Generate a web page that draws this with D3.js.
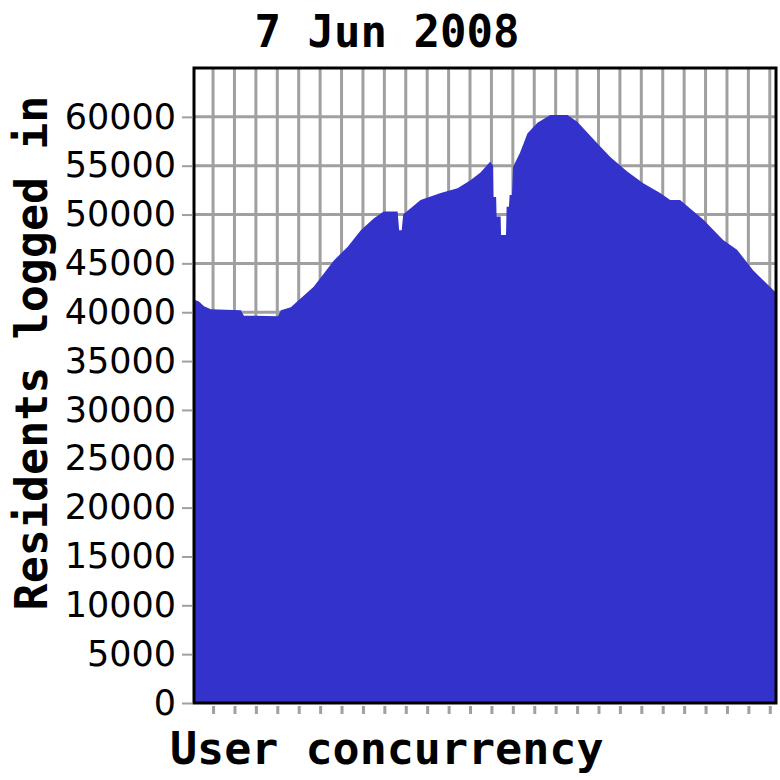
<!DOCTYPE html>
<html>
<head>
<meta charset="utf-8">
<script src="https://cdn.jsdelivr.net/npm/d3@7"></script>
<style>
  html, body { margin: 0; padding: 0; background: #fff; }
  svg { display: block; }
</style>
</head>
<body>
<svg id="chart" width="780" height="780"></svg>
<script>
// ---- data (x in grid-interval units, y = residents logged in) ----
const xValues = [0, 0.23, 0.47, 0.79, 2.19, 2.33, 3.92, 4.06, 4.52, 5.59, 6.53, 7.18, 7.79, 8.39, 8.86,
  9.51, 9.58, 9.70, 9.77, 10.58, 11.52, 12.31, 12.91, 13.38, 13.83, 13.97, 13.99, 14.11, 14.13, 14.32,
  14.34, 14.57, 14.60, 14.71, 14.74, 14.85, 14.90, 15.22, 15.46, 15.57, 16.04, 16.64, 17.44, 17.90,
  18.83, 19.44, 20.23, 20.98, 21.77, 22.24, 22.70, 23.78, 24.71, 25.36, 26.11, 27.04, 27.18];
const residents = [41300, 41100, 40600, 40300, 40200, 39650, 39600, 40200, 40500, 42600, 45300, 46700, 48400, 49600, 50300,
  50300, 48400, 48400, 50000, 51500, 52200, 52700, 53500, 54300, 55400, 55000, 51800, 51800, 49800, 49800,
  47900, 47900, 50800, 50800, 52000, 52000, 54900, 56300, 57650, 58300, 59400, 60200, 60200, 59500,
  57300, 55900, 54400, 53200, 52200, 51500, 51500, 49500, 47400, 46400, 44300, 42300, 42000];
const xTicks = [0.89, 1.89, 2.89, 3.89, 4.89, 5.89, 6.89, 7.89, 8.89, 9.89, 10.89, 11.89, 12.89, 13.89,
  14.89, 15.89, 16.89, 17.89, 18.89, 19.89, 20.89, 21.89, 22.89, 23.89, 24.89, 25.89, 26.89];
const yTicks = [0, 5000, 10000, 15000, 20000, 25000, 30000, 35000, 40000, 45000, 50000, 55000, 60000];
const xDomain = [0, 27.18];
const yDomain = [0, 65000];
const titleText = "7 Jun 2008";
const xLabel = "User concurrency";
const yLabel = "Residents logged in";

const data = xValues.map((x, i) => ({ x, y: residents[i] }));

const plotLeft = 194, plotRight = 776, plotTop = 68, plotBottom = 703;
const svg = d3.select("#chart");

const x = d3.scaleLinear().domain(xDomain).range([plotLeft, plotRight]);
const y = d3.scaleLinear().domain(yDomain).range([plotBottom, plotTop]);

const grid = "#a0a0a0";

// grid lines
svg.append("g").selectAll("line").data(yTicks.filter(d => d > 0)).join("line")
  .attr("x1", plotLeft).attr("x2", plotRight)
  .attr("y1", d => y(d)).attr("y2", d => y(d))
  .attr("stroke", grid).attr("stroke-width", 3);
svg.append("g").selectAll("line").data(xTicks).join("line")
  .attr("x1", d => x(d)).attr("x2", d => x(d))
  .attr("y1", plotTop).attr("y2", plotBottom)
  .attr("stroke", grid).attr("stroke-width", 3);

// area
const area = d3.area().x(d => x(d.x)).y0(y(0)).y1(d => y(d.y)).curve(d3.curveLinear);
svg.append("path").datum(data).attr("d", area).attr("fill", "#3333cc");

// frame
svg.append("rect").attr("x", plotLeft).attr("y", plotTop)
  .attr("width", plotRight - plotLeft).attr("height", plotBottom - plotTop)
  .attr("fill", "none").attr("stroke", "#000").attr("stroke-width", 3);

// y axis
const yAxis = d3.axisLeft(y).tickValues(yTicks).tickSize(10).tickPadding(6).tickFormat(d3.format("d"));
const gy = svg.append("g").attr("transform", `translate(${plotLeft - 2},0)`).call(yAxis);
gy.select(".domain").remove();
gy.selectAll(".tick line").attr("stroke", grid).attr("stroke-width", 2);
gy.selectAll(".tick text").attr("font-family", "DejaVu Sans").attr("font-size", 35)
  .attr("fill", "#000");

// x axis
const xAxis = d3.axisBottom(x).tickValues(xTicks).tickSize(8).tickFormat("");
const gx = svg.append("g").attr("transform", `translate(0,${plotBottom + 3})`).call(xAxis);
gx.select(".domain").remove();
gx.selectAll(".tick line").attr("stroke", grid).attr("stroke-width", 3);

// texts
svg.append("text").attr("x", 387).attr("y", 47).attr("text-anchor", "middle")
  .attr("font-family", "DejaVu Sans Mono").attr("font-weight", "bold").attr("font-size", 44)
  .text(titleText);
svg.append("text").attr("x", 170).attr("y", 764).attr("text-anchor", "start")
  .attr("font-family", "DejaVu Sans Mono").attr("font-weight", "bold").attr("font-size", 45)
  .text(xLabel);
svg.append("text").attr("transform", "translate(47,353) rotate(-90)").attr("text-anchor", "middle")
  .attr("font-family", "DejaVu Sans Mono").attr("font-weight", "bold").attr("font-size", 45)
  .text(yLabel);
</script>
</body>
</html>
